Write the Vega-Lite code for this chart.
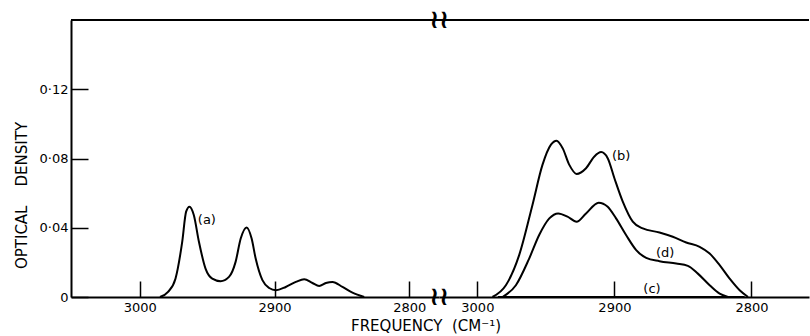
{
  "$schema": "https://vega.github.io/schema/vega-lite/v6.json",
  "padding": {"left": 14, "top": 7, "right": 0, "bottom": 0},
  "spacing": 0,
  "bounds": "flush",
  "config": {
    "view": {"stroke": null},
    "font": "DejaVu Sans",
    "axis": {
      "grid": false,
      "domainColor": "black",
      "domainWidth": 2,
      "tickColor": "black",
      "tickWidth": 1.5,
      "labelColor": "black",
      "titleColor": "black",
      "labelFont": "DejaVu Sans",
      "titleFont": "DejaVu Sans",
      "titleFontWeight": "normal"
    }
  },
  "title": {
    "text": "FREQUENCY\u00a0\u00a0(CM⁻¹)",
    "orient": "bottom",
    "anchor": "middle",
    "fontSize": 15,
    "fontWeight": "normal",
    "font": "DejaVu Sans",
    "color": "black",
    "offset": 5,
    "dx": 14
  },
  "datasets": {
    "left": [
      {"freq": 2985, "od": 0, "series": "a"},
      {"freq": 2979, "od": 0.003, "series": "a"},
      {"freq": 2973.5, "od": 0.0106, "series": "a"},
      {"freq": 2968.5, "od": 0.0319, "series": "a"},
      {"freq": 2965.6, "od": 0.0493, "series": "a"},
      {"freq": 2963.1, "od": 0.0522, "series": "a"},
      {"freq": 2959.9, "od": 0.0474, "series": "a"},
      {"freq": 2956.1, "od": 0.0319, "series": "a"},
      {"freq": 2951.2, "od": 0.0164, "series": "a"},
      {"freq": 2946.2, "od": 0.0106, "series": "a"},
      {"freq": 2940, "od": 0.0091, "series": "a"},
      {"freq": 2933.8, "od": 0.0116, "series": "a"},
      {"freq": 2928.9, "od": 0.0203, "series": "a"},
      {"freq": 2925.1, "od": 0.0338, "series": "a"},
      {"freq": 2920.7, "od": 0.0402, "series": "a"},
      {"freq": 2917, "od": 0.0338, "series": "a"},
      {"freq": 2914, "od": 0.0222, "series": "a"},
      {"freq": 2909, "od": 0.0097, "series": "a"},
      {"freq": 2904, "od": 0.0052, "series": "a"},
      {"freq": 2899, "od": 0.0039, "series": "a"},
      {"freq": 2891.7, "od": 0.0058, "series": "a"},
      {"freq": 2884.2, "od": 0.0087, "series": "a"},
      {"freq": 2878, "od": 0.0103, "series": "a"},
      {"freq": 2871.9, "od": 0.0081, "series": "a"},
      {"freq": 2866.9, "od": 0.0064, "series": "a"},
      {"freq": 2861.9, "od": 0.0081, "series": "a"},
      {"freq": 2857, "od": 0.0087, "series": "a"},
      {"freq": 2849.6, "od": 0.0058, "series": "a"},
      {"freq": 2842.2, "od": 0.0025, "series": "a"},
      {"freq": 2833.5, "od": 0, "series": "a"}
    ],
    "right": [
      {"freq": 2989, "od": 0, "series": "b"},
      {"freq": 2979.2, "od": 0.0068, "series": "b"},
      {"freq": 2969.5, "od": 0.0242, "series": "b"},
      {"freq": 2959.8, "od": 0.0532, "series": "b"},
      {"freq": 2952.5, "od": 0.0763, "series": "b"},
      {"freq": 2946.3, "od": 0.088, "series": "b"},
      {"freq": 2942.2, "od": 0.0903, "series": "b"},
      {"freq": 2937.8, "od": 0.086, "series": "b"},
      {"freq": 2932.9, "od": 0.0763, "series": "b"},
      {"freq": 2927.6, "od": 0.0711, "series": "b"},
      {"freq": 2920.7, "od": 0.0744, "series": "b"},
      {"freq": 2914.6, "od": 0.0812, "series": "b"},
      {"freq": 2909.7, "od": 0.0837, "series": "b"},
      {"freq": 2904.9, "od": 0.0802, "series": "b"},
      {"freq": 2900, "od": 0.0686, "series": "b"},
      {"freq": 2893.9, "od": 0.0551, "series": "b"},
      {"freq": 2886.6, "od": 0.0435, "series": "b"},
      {"freq": 2879.3, "od": 0.0396, "series": "b"},
      {"freq": 2867.1, "od": 0.0373, "series": "b"},
      {"freq": 2857.4, "od": 0.0348, "series": "b"},
      {"freq": 2847.6, "od": 0.0315, "series": "b"},
      {"freq": 2837.8, "od": 0.029, "series": "b"},
      {"freq": 2830.5, "od": 0.0251, "series": "b"},
      {"freq": 2823.2, "od": 0.0184, "series": "b"},
      {"freq": 2815.9, "od": 0.0106, "series": "b"},
      {"freq": 2808.6, "od": 0.0039, "series": "b"},
      {"freq": 2802.5, "od": 0, "series": "b"},
      {"freq": 2981.7, "od": 0, "series": "d"},
      {"freq": 2971.9, "od": 0.0068, "series": "d"},
      {"freq": 2962.2, "od": 0.0222, "series": "d"},
      {"freq": 2954.9, "od": 0.0358, "series": "d"},
      {"freq": 2947.5, "od": 0.0454, "series": "d"},
      {"freq": 2941, "od": 0.0483, "series": "d"},
      {"freq": 2934.2, "od": 0.0464, "series": "d"},
      {"freq": 2927.6, "od": 0.0435, "series": "d"},
      {"freq": 2920.7, "od": 0.0483, "series": "d"},
      {"freq": 2911.5, "od": 0.0545, "series": "d"},
      {"freq": 2904.9, "od": 0.0522, "series": "d"},
      {"freq": 2898.8, "od": 0.0454, "series": "d"},
      {"freq": 2891.5, "od": 0.0358, "series": "d"},
      {"freq": 2884.1, "od": 0.0271, "series": "d"},
      {"freq": 2876.8, "od": 0.0226, "series": "d"},
      {"freq": 2867.1, "od": 0.0207, "series": "d"},
      {"freq": 2854.9, "od": 0.0193, "series": "d"},
      {"freq": 2846.4, "od": 0.018, "series": "d"},
      {"freq": 2839.1, "od": 0.0135, "series": "d"},
      {"freq": 2830.5, "od": 0.0068, "series": "d"},
      {"freq": 2823.2, "od": 0.0019, "series": "d"},
      {"freq": 2817.1, "od": 0, "series": "d"},
      {"freq": 2985, "od": 0, "series": "c"},
      {"freq": 2805, "od": 0, "series": "c"}
    ],
    "labelsLeft": [
      {"freq": 2950.2, "od": 0.0445, "label": "(a)"}
    ],
    "labelsRight": [
      {"freq": 2895.1, "od": 0.0812, "label": "(b)"},
      {"freq": 2863, "od": 0.0256, "label": "(d)"},
      {"freq": 2872.6, "od": 0.0048, "label": "(c)"}
    ],
    "breaks": [
      {"freq": 2778, "od": 0.16},
      {"freq": 2778, "od": 0}
    ]
  },
  "hconcat": [
    {
      "width": 368,
      "height": 277,
      "layer": [
        {
          "data": {"name": "left"},
          "mark": {"type": "line", "color": "black", "strokeWidth": 2, "interpolate": "monotone"},
          "encoding": {
            "x": {
              "field": "freq", "type": "quantitative",
              "scale": {"domain": [2778, 3051], "reverse": true, "nice": false, "zero": false},
              "axis": {"values": [3000, 2900, 2800], "format": "d", "tickSize": -16, "labelPadding": 20, "labelFontSize": 13, "title": null}
            },
            "y": {
              "field": "od", "type": "quantitative",
              "scale": {"domain": [0, 0.16], "nice": false, "zero": true},
              "axis": {
                "values": [0, 0.04, 0.08, 0.12],
                "tickSize": -17,
                "labelPadding": 20,
                "labelFontSize": 13,
                "labelExpr": "datum.value == 0 ? '0' : replace(format(datum.value, '.2f'), '.', '·')",
                "title": "OPTICAL\u00a0\u00a0\u00a0\u00a0DENSITY",
                "titleFontSize": 15,
                "titlePadding": 10,
                "titleY": 175
              }
            },
            "detail": {"field": "series"}
          }
        },
        {
          "data": {"name": "left"},
          "mark": {"type": "rule", "color": "black", "strokeWidth": 2},
          "encoding": {"y": {"datum": 0.16}}
        },
        {
          "data": {"name": "labelsLeft"},
          "mark": {"type": "text", "fontSize": 13, "color": "black", "font": "DejaVu Sans"},
          "encoding": {
            "x": {"field": "freq", "type": "quantitative"},
            "y": {"field": "od", "type": "quantitative"},
            "text": {"field": "label"}
          }
        },
        {
          "data": {"name": "breaks"},
          "mark": {"type": "text", "fontSize": 26, "fontWeight": "bold", "color": "black", "text": "≀≀", "font": "DejaVu Sans"},
          "encoding": {
            "x": {"field": "freq", "type": "quantitative"},
            "y": {"field": "od", "type": "quantitative"}
          }
        }
      ]
    },
    {
      "width": 370,
      "height": 277,
      "layer": [
        {
          "data": {"name": "right"},
          "mark": {"type": "line", "color": "black", "strokeWidth": 2, "interpolate": "monotone"},
          "encoding": {
            "x": {
              "field": "freq", "type": "quantitative",
              "scale": {"domain": [2758, 3028], "reverse": true, "nice": false, "zero": false},
              "axis": {"values": [3000, 2900, 2800], "format": "d", "tickSize": -16, "labelPadding": 20, "labelFontSize": 13, "title": null}
            },
            "y": {
              "field": "od", "type": "quantitative",
              "scale": {"domain": [0, 0.16], "nice": false, "zero": true},
              "axis": null
            },
            "detail": {"field": "series"}
          }
        },
        {
          "data": {"name": "right"},
          "mark": {"type": "rule", "color": "black", "strokeWidth": 2},
          "encoding": {"y": {"datum": 0.16}}
        },
        {
          "data": {"name": "labelsRight"},
          "mark": {"type": "text", "fontSize": 13, "color": "black", "font": "DejaVu Sans"},
          "encoding": {
            "x": {"field": "freq", "type": "quantitative"},
            "y": {"field": "od", "type": "quantitative"},
            "text": {"field": "label"}
          }
        }
      ]
    }
  ]
}
